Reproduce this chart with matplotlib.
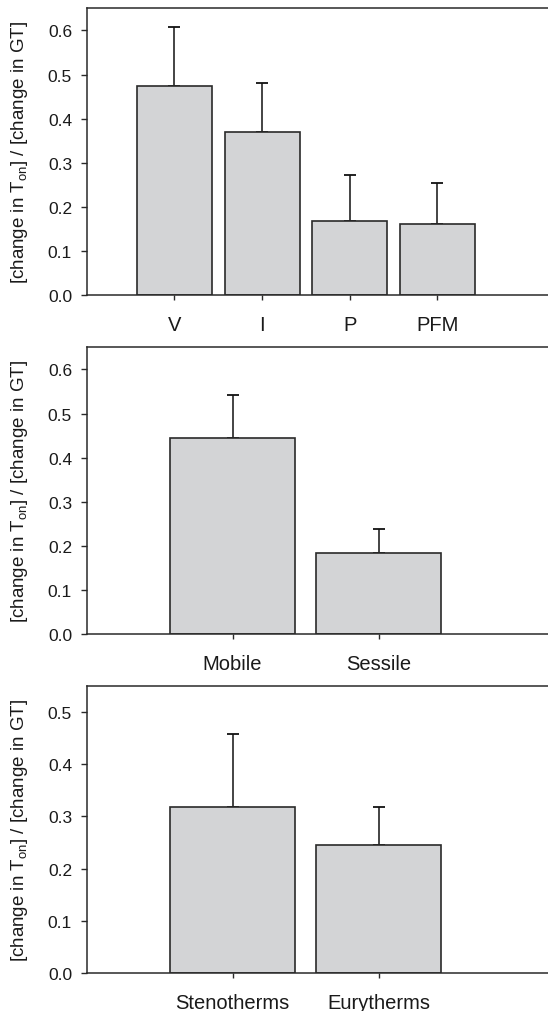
import numpy as np
import matplotlib
matplotlib.use("Agg")
import matplotlib.pyplot as plt

plt.rcParams["font.family"] = ["Liberation Sans", "DejaVu Sans"]

# ---- data ----
taxa = ["V", "I", "P", "PFM"]
taxa_mean = [0.474, 0.369, 0.168, 0.162]
taxa_err = [0.134, 0.111, 0.105, 0.092]

mobility = ["Mobile", "Sessile"]
mobility_mean = [0.444, 0.184]
mobility_err = [0.098, 0.055]

thermal = ["Stenotherms", "Eurytherms"]
thermal_mean = [0.317, 0.245]
thermal_err = [0.140, 0.072]

BAR_FACE = "#d3d4d6"
EDGE = "#2a2a2a"
YLABEL = r"[change in T$_{\mathregular{on}}$] / [change in GT]"

fig = plt.figure(figsize=(5.48, 10.12), dpi=100)

panels = [
    # (labels, means, errs, ymax, yticks, axes rect, xmax)
    (taxa, taxa_mean, taxa_err, 0.65, np.arange(0, 0.61, 0.1),
     [0.158, 0.7072, 0.842, 0.2836], 5.26),
    (mobility, mobility_mean, mobility_err, 0.65, np.arange(0, 0.61, 0.1),
     [0.158, 0.3722, 0.842, 0.2836], 3.16),
    (thermal, thermal_mean, thermal_err, 0.55, np.arange(0, 0.51, 0.1),
     [0.158, 0.0375, 0.842, 0.2839], 3.16),
]

for labels, means, errs, ymax, yticks, rect, xmax in panels:
    ax = fig.add_axes(rect)
    x = np.arange(1, len(labels) + 1)
    ax.bar(x, means, width=0.855, color=BAR_FACE, edgecolor=EDGE,
           linewidth=1.2, zorder=2)
    ax.errorbar(x, means, yerr=[np.zeros(len(errs)), errs], fmt="none",
                ecolor="#111111", elinewidth=1.1, capsize=4, capthick=1.3,
                zorder=1)
    ax.set_xlim(0, xmax)
    ax.set_ylim(0, ymax)
    ax.set_xticks(x)
    ax.set_xticklabels(labels, fontsize=14.5)
    ax.set_yticks(yticks)
    ax.set_yticklabels([f"{t:.1f}" for t in yticks], fontsize=12.5)
    ax.tick_params(axis="x", direction="out", length=3.5, width=1.0,
                   pad=11, color=EDGE, labelcolor="#1a1a1a")
    ax.tick_params(axis="y", direction="out", length=4, width=1.0,
                   pad=6.5, color=EDGE, labelcolor="#1a1a1a")
    for side in ["top", "left", "bottom"]:
        ax.spines[side].set_color(EDGE)
        ax.spines[side].set_linewidth(1.1)
    ax.spines["right"].set_visible(False)
    ax.set_ylabel(YLABEL, fontsize=13.5, color="#1a1a1a")
    ax.yaxis.set_label_coords(-0.123, 0.5)

fig.savefig("out.png", dpi=100)
